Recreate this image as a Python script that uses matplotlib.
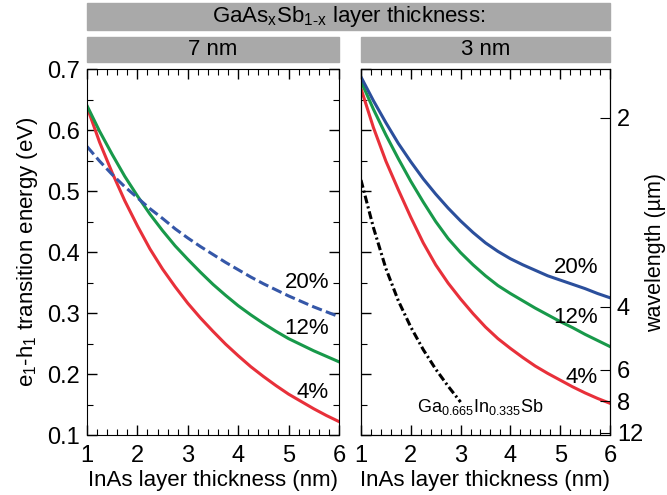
import numpy as np
import matplotlib
matplotlib.use("Agg")
import matplotlib.pyplot as plt
from matplotlib.patches import Rectangle
from matplotlib.ticker import MultipleLocator

plt.rcParams["font.family"] = ["Liberation Sans", "DejaVu Sans"]
plt.rcParams["mathtext.fontset"] = "custom"
plt.rcParams["mathtext.rm"] = "Liberation Sans"
plt.rcParams["mathtext.default"] = "regular"

# InAs thickness (nm), read every 0.25 nm
thick = [1, 1.25, 1.5, 1.75, 2, 2.25, 2.5, 2.75, 3, 3.25, 3.5,
         3.75, 4, 4.25, 4.5, 4.75, 5, 5.25, 5.5, 5.75, 6]

# 7 nm GaAsSb layer (eV)
e7_4 = [0.638, 0.580, 0.530, 0.484, 0.443, 0.405, 0.372, 0.343, 0.316, 0.292, 0.270,
        0.249, 0.230, 0.212, 0.196, 0.181, 0.167, 0.155, 0.143, 0.132, 0.122]
e7_12 = [0.640, 0.598, 0.560, 0.524, 0.492, 0.462, 0.435, 0.410, 0.388, 0.367, 0.347,
         0.329, 0.312, 0.297, 0.283, 0.270, 0.258, 0.248, 0.238, 0.229, 0.220]
e7_20 = [0.573, 0.549, 0.527, 0.507, 0.489, 0.471, 0.455, 0.438, 0.423, 0.409, 0.396,
         0.383, 0.371, 0.359, 0.348, 0.338, 0.328, 0.319, 0.310, 0.302, 0.294]

# 3 nm GaAsSb layer (eV)
e3_4 = [0.668, 0.604, 0.549, 0.502, 0.457, 0.415, 0.379, 0.349, 0.323, 0.299, 0.277,
        0.258, 0.242, 0.227, 0.213, 0.201, 0.190, 0.179, 0.169, 0.160, 0.152]
e3_12 = [0.680, 0.634, 0.592, 0.553, 0.516, 0.482, 0.450, 0.422, 0.399, 0.379, 0.361,
         0.345, 0.332, 0.320, 0.308, 0.297, 0.286, 0.276, 0.265, 0.255, 0.245]
e3_20 = [0.687, 0.648, 0.612, 0.578, 0.548, 0.520, 0.495, 0.472, 0.451, 0.432, 0.415,
         0.401, 0.389, 0.379, 0.370, 0.361, 0.354, 0.347, 0.340, 0.332, 0.325]

# Ga0.665In0.335Sb reference
gis_x = [1, 1.25, 1.5, 1.75, 2, 2.25, 2.5, 2.75, 3]
gis_e = [0.518, 0.440, 0.373, 0.320, 0.277, 0.240, 0.208, 0.180, 0.154]

wl_ticks = [2, 4, 6, 8, 12]

RED = "#e8303a"
GREEN = "#18994a"
BLUE = "#2b4f9c"
GRAY = "#a9a9a9"
FS = 17
LW = 2.2

fig = plt.figure(figsize=(6.67, 4.95), dpi=100)
ax1 = fig.add_axes([0.1304, 0.1212, 0.3778, 0.7394])
ax2 = fig.add_axes([0.5412, 0.1212, 0.3733, 0.7394])

ax1.plot(thick, e7_4, color=RED, lw=LW)
ax1.plot(thick, e7_12, color=GREEN, lw=LW)
ax1.plot(thick, e7_20, color="#3557a8", lw=LW, dashes=(3.4, 1.4))
ax1.text(5.8, 0.350, "20%", ha="right", va="center", fontsize=16)
ax1.text(5.8, 0.275, "12%", ha="right", va="center", fontsize=16)
ax1.text(5.8, 0.169, "4%", ha="right", va="center", fontsize=16)

ax2.plot(thick, e3_4, color=RED, lw=LW)
ax2.plot(thick, e3_12, color=GREEN, lw=LW)
ax2.plot(thick, e3_20, color=BLUE, lw=LW)
ax2.plot(gis_x, gis_e, color="black", lw=LW, dashes=(2.6, 1.0, 0.7, 1.0))
ax2.text(5.76, 0.374, "20%", ha="right", va="center", fontsize=16)
ax2.text(5.76, 0.293, "12%", ha="right", va="center", fontsize=16)
ax2.text(5.76, 0.195, "4%", ha="right", va="center", fontsize=16)
ax2.text(3.4, 0.146, "Ga$_{0.665}$In$_{0.335}$Sb", ha="center", va="center", fontsize=13)

for ax in (ax1, ax2):
    ax.set_xlim(1, 6)
    ax.set_ylim(0.1, 0.7)
    ax.xaxis.set_major_locator(MultipleLocator(1))
    ax.xaxis.set_minor_locator(MultipleLocator(0.2))
    ax.yaxis.set_major_locator(MultipleLocator(0.1))
    ax.yaxis.set_minor_locator(MultipleLocator(0.05))
    ax.tick_params(which="both", direction="in", top=True, right=True, labelsize=FS, pad=5)
    ax.tick_params(axis="x", which="both", pad=7)
    ax.tick_params(which="major", length=7, width=1)
    ax.tick_params(which="minor", length=4, width=0.8)
    ax.set_xlabel("InAs layer thickness (nm)", fontsize=16, labelpad=2)

ax1.set_ylabel("e$_1$-h$_1$ transition energy (eV)", fontsize=16, labelpad=5)
ax2.tick_params(which="both", right=False, labelleft=False)

# wavelength axis on the right
ax3 = ax2.twinx()
ax3.set_ylim(0.1, 0.7)
ax3.set_yticks([1.2398 / w for w in wl_ticks])
ax3.set_yticklabels([str(w) for w in wl_ticks])
ax3.tick_params(direction="in", length=7, labelsize=FS, pad=5)
ax3.set_ylabel("wavelength (µm)", fontsize=15.5, rotation=90, labelpad=1)

# header banners
fig.patches.append(Rectangle((0.1304, 0.939), 0.7841, 0.055, transform=fig.transFigure,
                             color=GRAY, zorder=0))
fig.patches.append(Rectangle((0.1304, 0.875), 0.3778, 0.05, transform=fig.transFigure,
                             color=GRAY, zorder=0))
fig.patches.append(Rectangle((0.5412, 0.875), 0.3733, 0.05, transform=fig.transFigure,
                             color=GRAY, zorder=0))
fig.text(0.5225, 0.966, "GaAs$_x$Sb$_{1\u2011x}$ layer thickness:", ha="center", va="center", fontsize=16)
fig.text(0.3193, 0.900, "7 nm", ha="center", va="center", fontsize=16)
fig.text(0.7279, 0.900, "3 nm", ha="center", va="center", fontsize=16)

fig.savefig("out.png", dpi=100)
